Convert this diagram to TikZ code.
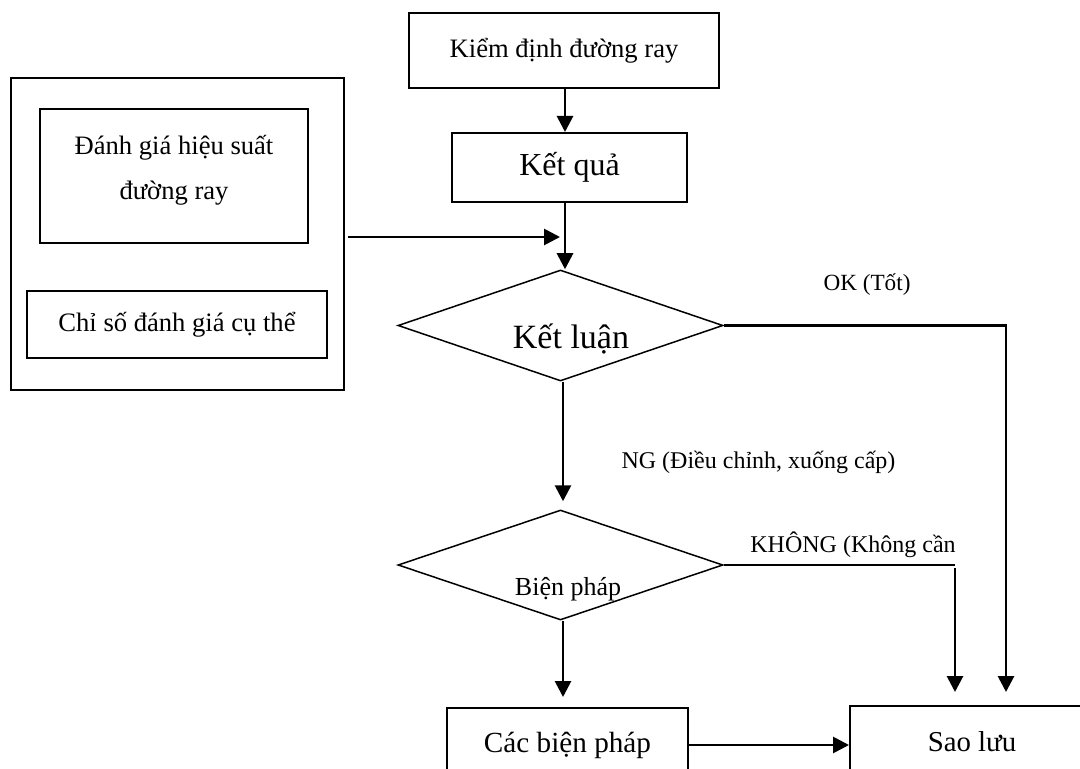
\documentclass[tikz,border=0pt]{standalone}
\usepackage{fontspec}
\setmainfont{Liberation Serif}
\usetikzlibrary{arrows.meta,shapes.geometric,calc}
\begin{document}
\begin{tikzpicture}[x=0.5pt,y=-0.5pt,
  box/.style={draw,line width=1pt,inner sep=0pt,align=center},
  dia/.style={draw,diamond,line width=0.75pt,inner sep=0pt},
  arr/.style={line width=1.4pt,-{Triangle[length=8pt,width=8pt]}},
  lbl/.style={inner sep=0pt}]
\useasboundingbox (0,0) rectangle (1080,769);
\clip (0,0) rectangle (1080,769);
% nodes
\node[box,minimum width=155pt,minimum height=37.5pt,font=\fontsize{13.3}{16}\selectfont] (top) at (564,50.5) {Kiểm định đường ray};
\node[box,minimum width=117.5pt,minimum height=34.5pt,font=\fontsize{16}{19}\selectfont] (kq) at (569.5,167.5) {Kết quả};
\node[draw,line width=0.65pt,minimum width=166.5pt,minimum height=156pt,inner sep=0pt] (outer) at (177.5,234) {};
\node[box,minimum width=134pt,minimum height=67pt] (in1) at (174,176) {};
\node[lbl,align=center,font=\fontsize{13.3}{22.5}\selectfont] (in1t) at (174,170) {Đánh giá hiệu suất\\đường ray};
\node[box,minimum width=150pt,minimum height=33.5pt,font=\fontsize{13.3}{16}\selectfont] (in2) at (177,324.5) {Chỉ số đánh giá cụ thể};
\node[dia,minimum width=162.5pt,minimum height=55.5pt] (d1) at (560.5,325.5) {};
\node[lbl,anchor=base,font=\fontsize{17}{20}\selectfont] (t1) at (571,349) {Kết luận};
\node[dia,minimum width=162.5pt,minimum height=55pt] (d2) at (560.5,565) {};
\node[lbl,anchor=base,font=\fontsize{13}{16}\selectfont] (t2) at (568,595) {Biện pháp};
\node[box,minimum width=120.5pt,minimum height=37pt,font=\fontsize{14.6}{17}\selectfont] (cb) at (567.5,745) {Các biện pháp};
\node[box,minimum width=122pt,minimum height=36pt,font=\fontsize{14.4}{17}\selectfont] (sl) at (972,742) {Sao lưu};
% labels
\node[lbl,font=\fontsize{11.6}{14}\selectfont] (ok) at (867,285) {OK (Tốt)};
\node[lbl,font=\fontsize{12}{14}\selectfont] (ng) at (758.5,462) {NG (Điều chỉnh, xuống cấp)};
\node[lbl,anchor=west,font=\fontsize{12}{14}\selectfont] (kh) at (750,545) {KHÔNG (Không cần};
% helper coordinates
\coordinate (sp) at (565,0);
\coordinate (sp2) at (563,0);
\coordinate (s1) at (348,237);
\coordinate (e1) at (560,237);
\coordinate (okc) at (1006,0);
\coordinate (kc) at (955,0);
% connectors
\draw[arr] (top.south -| sp) -- (kq.north -| sp);
\draw[arr] (kq.south -| sp) -- (d1.north -| sp);
\draw[arr] (s1) -- (e1);
\draw[arr] (d1.east) -| ([yshift=6.5pt]sl.north -| okc);
\draw[arr] (d1.south -| sp2) -- ([yshift=4pt]d2.north -| sp2);
\draw[line width=0.9pt] (d2.east) -- (d2.east -| kc);
\draw[arr] ([yshift=-1.5pt]d2.east -| kc) -- ([yshift=6.5pt]sl.north -| kc);
\draw[arr] (d2.south -| sp2) -- ([yshift=5pt]cb.north -| sp2);
\draw[arr] (cb.east) -- (sl.west |- cb.east);
\end{tikzpicture}
\end{document}
